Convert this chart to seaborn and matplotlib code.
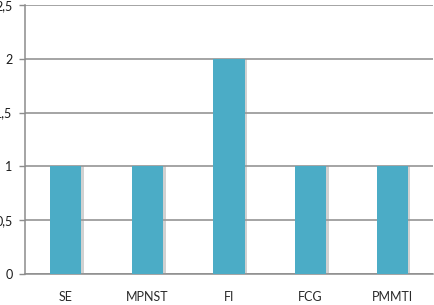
import matplotlib
matplotlib.use("Agg")
import matplotlib.pyplot as plt
import matplotlib.patheffects as pe
import seaborn as sns
import pandas as pd

categories = ["SE", "MPNST", "FI", "FCG", "PMMTI"]
values = [1, 1, 2, 1, 1]
y_ticks = [0, 0.5, 1, 1.5, 2, 2.5]
y_tick_labels = ["0", "0,5", "1", "1,5", "2", "2,5"]

sns.set_theme(style="white")
plt.rcParams['font.family'] = ['Lato', 'DejaVu Sans']

df = pd.DataFrame({"cat": categories, "val": values})

fig = plt.figure(figsize=(4.34, 3.05), dpi=100)
ax = fig.add_axes([25/434, 1-274/305, (433-25)/434, (274-5)/305])

sns.barplot(data=df, x="cat", y="val", color="#4BACC6", saturation=1,
            width=0.38, ax=ax, zorder=3)
for p in ax.patches:
    p.set_edgecolor("none")
    p.set_path_effects([pe.SimplePatchShadow(offset=(2, 0), shadow_rgbFace="#9a9a9a", alpha=0.45),
                        pe.Normal()])

ax.set_ylim(0, 2.5)
ax.set_xlim(-0.5, len(categories) - 0.5)
ax.set_yticks(y_ticks)
ax.set_yticklabels(y_tick_labels)
ax.set_xlabel("")
ax.set_ylabel("")

ax.yaxis.grid(True, color="#8c8c8c", linewidth=1.1, zorder=0)
ax.set_axisbelow(True)

for s in ["top", "right"]:
    ax.spines[s].set_visible(False)
for s in ["left", "bottom"]:
    ax.spines[s].set_color("#8c8c8c")
    ax.spines[s].set_linewidth(1.1)

# minor ticks between categories on x axis
ax.set_xticks([i + 0.5 for i in range(-1, len(categories))], minor=True)
ax.tick_params(axis="x", which="minor", length=4, width=1, color="#8c8c8c", direction="out")
ax.tick_params(axis="x", which="major", length=0, pad=12, labelsize=9, labelcolor="#2a2a2a")
ax.tick_params(axis="y", length=4, width=1, color="#8c8c8c", direction="out", left=True,
               pad=5, labelsize=9, labelcolor="#1a1a1a")

fig.savefig("out.png", dpi=100)
